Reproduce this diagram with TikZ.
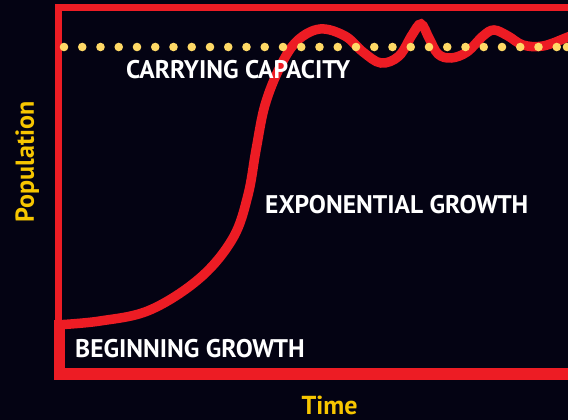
\documentclass[tikz,border=0pt]{standalone}
\usepackage{fontspec}
\setmainfont{PT Sans}
\usepackage{tikz}
\definecolor{bgnavy}{HTML}{040313}
\definecolor{curvered}{HTML}{ED1C24}
\definecolor{labelgold}{HTML}{F7C600}
\definecolor{dotyellow}{HTML}{FFD966}
\tikzset{
	phase/.style={text=white, inner sep=0pt, font=\bfseries\fontsize{25.5}{26}\selectfont},
	axislabel/.style={text=labelgold, inner sep=0pt, font=\bfseries\fontsize{26}{27}\selectfont}
}

\begin{document}
\begin{tikzpicture}[x=1pt, y=-1pt]
			%%%%% START %%%%%
			
			\useasboundingbox (0, 0) rectangle (568, 420);
			\fill[bgnavy] (0, 0) rectangle (568, 420);
			
			\draw[line width=7, color=curvered] (575, 8) -- (58.5, 8) -- (58.5, 326);
			\draw[line width=11.5, color=curvered] (59.5, 320) -- (59.5, 374) -- (575, 374);
			
			\draw[line width=9.5, color=curvered] plot[smooth, tension=0.6] coordinates {
				(55, 325) (100, 321) (150, 310) (200, 278) (233, 238) (248, 195) (256, 150)
				(265, 105) (280, 67) (297, 41) (320, 29) (345, 36) (363, 52) (381, 63)
				(399, 56) (412, 35) (421, 24) (429, 38) (438, 54) (451, 58) (467, 52)
				(483, 36) (494, 30) (508, 36) (523, 45) (543, 46) (568, 37) (585, 30)};
			
			\foreach \k in {0,...,27}
				\fill[dotyellow] ({64 + 18.25*\k}, 47) circle (4.3);
			\fill[dotyellow] (567, 47) circle (4.3);
			
			\node[phase, anchor=base west] (carrying) at (126, 78) {CARRYING CAPACITY};
			\node[phase, anchor=base west] (exponential) at (265, 213) {EXPONENTIAL GROWTH};
			\node[phase, anchor=base west] (beginning) at (75, 357) {BEGINNING GROWTH};
			
			\node[axislabel, anchor=base west] (time) at (301.5, 414) {Time};
			\node[axislabel, rotate=90, anchor=base] (population) at (34, 162) {Population};
			
			%%%%% END %%%%%
\end{tikzpicture}
\end{document}
